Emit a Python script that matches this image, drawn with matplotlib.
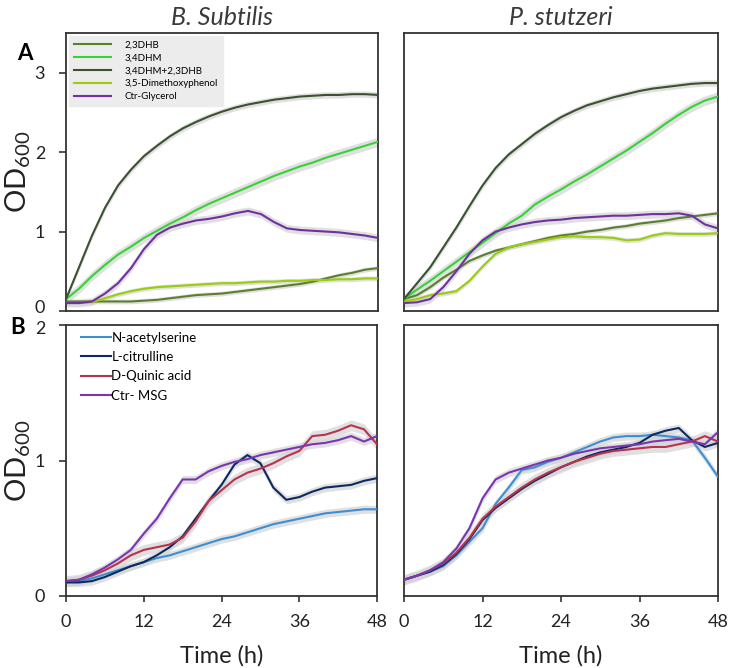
import matplotlib
matplotlib.use("Agg")
import matplotlib.pyplot as plt
import matplotlib.transforms as mtransforms
import numpy as np

plt.rcParams['font.family'] = ['Lato', 'DejaVu Sans']
plt.rcParams['mathtext.fontset'] = 'custom'
plt.rcParams['mathtext.rm'] = 'Lato'
plt.rcParams['mathtext.it'] = 'Lato:italic'

time_h = [0, 2, 4, 6, 8, 10, 12, 14, 16, 18, 20, 22, 24, 26, 28, 30, 32, 34, 36, 38, 40, 42, 44, 46, 48]

# ---- Panel A : aromatic compounds ----
labels_a = ["2,3DHB", "3,4DHM", "3,4DHM+2,3DHB", "3,5-Dimethoxyphenol", "Ctr-Glycerol"]
colors_a = ["#5b7f2e", "#33d433", "#3b5230", "#9acd0a", "#7030a0"]
sd_a = [0.03, 0.06, 0.04, 0.03, 0.05]

bs_23dhb = [0.12, 0.12, 0.12, 0.12, 0.12, 0.12, 0.13, 0.14, 0.16, 0.18, 0.20, 0.21, 0.22, 0.24, 0.26, 0.28, 0.30, 0.32, 0.34, 0.37, 0.41, 0.45, 0.48, 0.52, 0.54]
bs_34dhm = [0.15, 0.28, 0.44, 0.58, 0.71, 0.81, 0.92, 1.01, 1.10, 1.18, 1.27, 1.35, 1.42, 1.49, 1.56, 1.63, 1.70, 1.76, 1.82, 1.87, 1.93, 1.98, 2.03, 2.08, 2.13]
bs_mix = [0.15, 0.55, 0.95, 1.30, 1.58, 1.78, 1.95, 2.08, 2.20, 2.30, 2.38, 2.45, 2.51, 2.56, 2.60, 2.63, 2.66, 2.68, 2.70, 2.71, 2.72, 2.72, 2.73, 2.73, 2.72]
bs_35dmp = [0.10, 0.10, 0.11, 0.16, 0.21, 0.25, 0.28, 0.30, 0.31, 0.32, 0.33, 0.34, 0.35, 0.35, 0.36, 0.37, 0.37, 0.38, 0.38, 0.39, 0.39, 0.40, 0.40, 0.41, 0.41]
bs_glyc = [0.10, 0.10, 0.12, 0.22, 0.35, 0.54, 0.78, 0.96, 1.05, 1.10, 1.14, 1.16, 1.19, 1.23, 1.26, 1.22, 1.12, 1.04, 1.02, 1.01, 1.00, 0.99, 0.97, 0.95, 0.92]

ps_23dhb = [0.15, 0.20, 0.30, 0.42, 0.52, 0.63, 0.70, 0.76, 0.80, 0.84, 0.88, 0.92, 0.95, 0.97, 1.00, 1.02, 1.05, 1.07, 1.10, 1.12, 1.14, 1.17, 1.19, 1.21, 1.23]
ps_34dhm = [0.15, 0.27, 0.38, 0.50, 0.62, 0.74, 0.86, 0.98, 1.10, 1.20, 1.34, 1.44, 1.53, 1.63, 1.72, 1.82, 1.92, 2.02, 2.13, 2.24, 2.36, 2.47, 2.57, 2.65, 2.70]
ps_mix = [0.15, 0.35, 0.55, 0.80, 1.05, 1.32, 1.58, 1.80, 1.97, 2.10, 2.23, 2.34, 2.44, 2.52, 2.59, 2.64, 2.69, 2.73, 2.77, 2.80, 2.82, 2.84, 2.86, 2.87, 2.87]
ps_35dmp = [0.12, 0.15, 0.20, 0.22, 0.25, 0.38, 0.56, 0.72, 0.80, 0.84, 0.87, 0.90, 0.93, 0.94, 0.93, 0.93, 0.92, 0.89, 0.90, 0.95, 0.98, 0.97, 0.97, 0.97, 0.98]
ps_glyc = [0.10, 0.11, 0.15, 0.30, 0.50, 0.72, 0.89, 1.00, 1.05, 1.09, 1.12, 1.14, 1.15, 1.17, 1.18, 1.19, 1.20, 1.20, 1.21, 1.22, 1.22, 1.23, 1.20, 1.09, 1.04]

# ---- Panel B : amino/organic compounds ----
labels_b = ["N-acetylserine", "L-citrulline", "D-Quinic acid", "Ctr- MSG"]
colors_b = ["#3b8fd4", "#0c2a60", "#b8334f", "#7b35b0"]
sd_b = [0.03, 0.03, 0.04, 0.03]

bs_nas = [0.10, 0.11, 0.13, 0.16, 0.19, 0.22, 0.25, 0.28, 0.30, 0.33, 0.36, 0.39, 0.42, 0.44, 0.47, 0.50, 0.53, 0.55, 0.57, 0.59, 0.61, 0.62, 0.63, 0.64, 0.64]
bs_cit = [0.10, 0.10, 0.11, 0.14, 0.18, 0.22, 0.25, 0.30, 0.36, 0.44, 0.57, 0.70, 0.82, 0.97, 1.04, 0.98, 0.80, 0.71, 0.73, 0.77, 0.80, 0.81, 0.82, 0.85, 0.87]
bs_qui = [0.11, 0.12, 0.15, 0.19, 0.24, 0.30, 0.34, 0.36, 0.38, 0.43, 0.55, 0.70, 0.78, 0.86, 0.91, 0.94, 0.98, 1.03, 1.07, 1.18, 1.19, 1.22, 1.26, 1.23, 1.12]
bs_msg = [0.11, 0.12, 0.16, 0.21, 0.27, 0.34, 0.46, 0.57, 0.72, 0.86, 0.86, 0.92, 0.96, 0.99, 1.01, 1.04, 1.06, 1.08, 1.10, 1.12, 1.13, 1.15, 1.18, 1.14, 1.18]

ps_nas = [0.12, 0.15, 0.18, 0.22, 0.30, 0.40, 0.50, 0.68, 0.80, 0.93, 0.95, 0.99, 1.02, 1.06, 1.10, 1.14, 1.17, 1.18, 1.18, 1.19, 1.18, 1.17, 1.15, 1.02, 0.88]
ps_cit = [0.12, 0.15, 0.18, 0.23, 0.31, 0.42, 0.56, 0.65, 0.72, 0.79, 0.85, 0.90, 0.95, 0.99, 1.03, 1.06, 1.08, 1.10, 1.13, 1.19, 1.22, 1.24, 1.15, 1.10, 1.13]
ps_qui = [0.12, 0.15, 0.19, 0.24, 0.32, 0.43, 0.57, 0.66, 0.73, 0.80, 0.86, 0.91, 0.95, 0.99, 1.02, 1.05, 1.07, 1.08, 1.09, 1.10, 1.10, 1.12, 1.14, 1.18, 1.14]
ps_msg = [0.12, 0.15, 0.19, 0.25, 0.35, 0.50, 0.72, 0.86, 0.91, 0.94, 0.97, 1.00, 1.02, 1.05, 1.07, 1.09, 1.10, 1.11, 1.12, 1.14, 1.15, 1.16, 1.14, 1.12, 1.21]

x_ticks = [0, 12, 24, 36, 48]
titles = ["B. Subtilis", "P. stutzeri"]

fig = plt.figure(figsize=(7.39, 6.68), dpi=100)
W, H = 739, 668

def add_ax(l, t, r, b):
    return fig.add_axes([l / W, 1 - b / H, (r - l) / W, (b - t) / H])

ax_tl = add_ax(66, 33, 378, 311)
ax_tr = add_ax(404, 33, 718, 311)
ax_bl = add_ax(66, 325, 377, 596)
ax_br = add_ax(404, 325, 718, 596)

band_color = "#d4d4d4"

def draw(ax, series, labels, colors, sds):
    t = np.array(time_h)
    handles = []
    for s, lab, c, sd in zip(series, labels, colors, sds):
        y = np.array(s)
        ax.fill_between(t, y - sd, y + sd, color=band_color, alpha=0.7, lw=0, zorder=1)
    for s, lab, c, sd in zip(series, labels, colors, sds):
        h, = ax.plot(t, s, color=c, lw=1.5, label=lab, zorder=3)
        handles.append(h)
    return handles

h_a = draw(ax_tl, [bs_23dhb, bs_34dhm, bs_mix, bs_35dmp, bs_glyc], labels_a, colors_a, sd_a)
draw(ax_tr, [ps_23dhb, ps_34dhm, ps_mix, ps_35dmp, ps_glyc], labels_a, colors_a, sd_a)
h_b = draw(ax_bl, [bs_nas, bs_cit, bs_qui, bs_msg], labels_b, colors_b, sd_b)
draw(ax_br, [ps_nas, ps_cit, ps_qui, ps_msg], labels_b, colors_b, sd_b)

for ax in (ax_tl, ax_tr, ax_bl, ax_br):
    ax.set_xlim(0, 48)
    for sp in ax.spines.values():
        sp.set_color("#333333")
        sp.set_linewidth(1.3)
    ax.tick_params(axis="y", direction="out", length=5, width=1.2, color="#333333",
                   labelsize=13, labelcolor="#222222", pad=10)
    ax.tick_params(axis="x", direction="out", length=4, width=1.2, color="#333333",
                   labelsize=13, labelcolor="#222222", pad=9)

for ax in (ax_tl, ax_tr):
    ax.set_ylim(0, 3.5)
    ax.set_xticks([])
for ax in (ax_bl, ax_br):
    ax.set_ylim(0, 2)
    ax.set_xticks(x_ticks)
    ax.set_xlabel("Time (h)", fontsize=17, color="#222222", labelpad=11)

ax_tl.set_yticks([0, 1, 2, 3])
ax_bl.set_yticks([0, 1, 2])
ax_tr.set_yticks([])
ax_br.set_yticks([])

# nudge the crowded "0" (top panel) and "2" (bottom panel) labels apart
lab0 = ax_tl.get_yticklabels()[0]
lab0.set_transform(lab0.get_transform() + mtransforms.ScaledTranslation(0, 3 / 72, fig.dpi_scale_trans))
lab2 = ax_bl.get_yticklabels()[-1]
lab2.set_transform(lab2.get_transform() + mtransforms.ScaledTranslation(0, -2 / 72, fig.dpi_scale_trans))

for ax in (ax_tl, ax_bl):
    ax.set_ylabel(r"OD$_{600}$", fontsize=21, color="#222222")
    ax.yaxis.set_label_coords(-0.105, 0.5)

ax_tl.set_title(titles[0], fontsize=18, style="italic", color="#3a3a3a", pad=6)
ax_tr.set_title(titles[1], fontsize=18, style="italic", color="#3a3a3a", pad=6)

leg_a = ax_tl.legend(handles=h_a, loc="upper left", fontsize=7, frameon=True,
                     fancybox=False, facecolor="#ececec", edgecolor="#ececec",
                     framealpha=1, handlelength=3.8, handletextpad=1.4,
                     labelspacing=0.4, borderaxespad=0.3, borderpad=0.5)
leg_b = ax_bl.legend(handles=h_b, loc="upper left", fontsize=9.5, frameon=False,
                     handlelength=2.3, handletextpad=0.0, labelspacing=0.55,
                     borderpad=0, borderaxespad=0,
                     bbox_to_anchor=(0.048, 0.975))

fig.text(17 / W, 1 - 53 / H, "A", fontsize=16, fontweight="bold", ha="left", va="center")
fig.text(10 / W, 1 - 327 / H, "B", fontsize=16, fontweight="bold", ha="left", va="center")

fig.savefig("out.png", dpi=100)
